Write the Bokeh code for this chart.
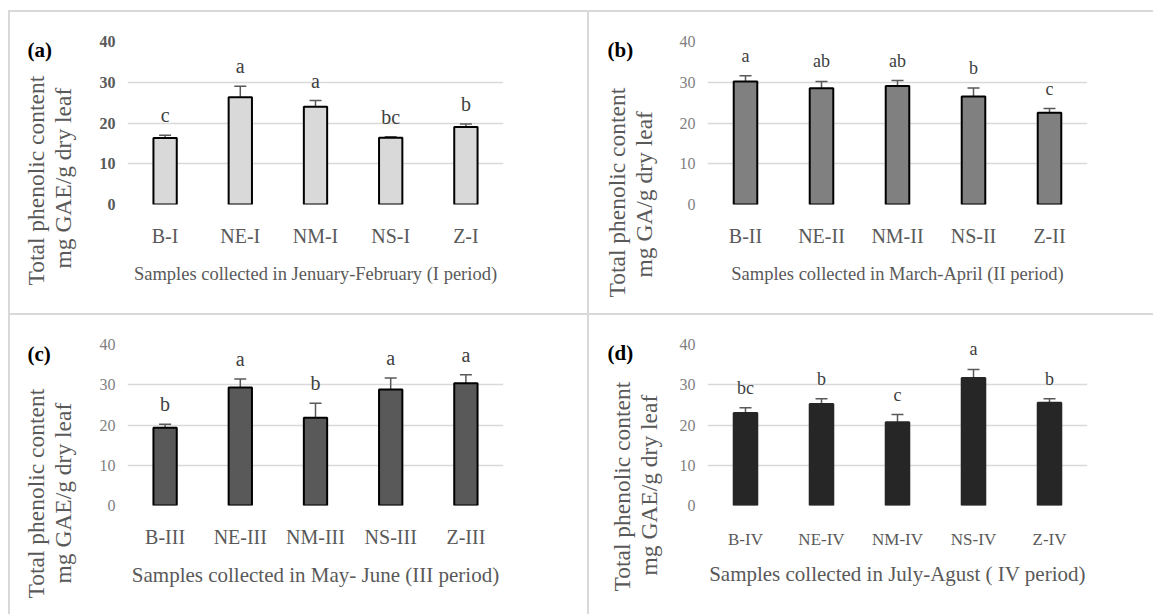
from bokeh.plotting import figure
from bokeh.models import (FactorRange, Range1d, ColumnDataSource, Whisker, TeeHead,
                          Title, Div, FixedTicker)
from bokeh.layouts import row, column
from bokeh.core.properties import value
from bokeh.embed import file_html
from bokeh.resources import INLINE

# ---------------- data ----------------
cats_a = ["B-I", "NE-I", "NM-I", "NS-I", "Z-I"]
vals_a = [16.3, 26.3, 24.0, 16.4, 19.0]
err_a = [0.7, 2.7, 1.5, 0.2, 0.75]
let_a = ["c", "a", "a", "bc", "b"]

cats_b = ["B-II", "NE-II", "NM-II", "NS-II", "Z-II"]
vals_b = [30.2, 28.5, 29.1, 26.5, 22.5]
err_b = [1.4, 1.7, 1.3, 2.1, 1.05]
let_b = ["a", "ab", "ab", "b", "c"]

cats_c = ["B-III", "NE-III", "NM-III", "NS-III", "Z-III"]
vals_c = [19.3, 29.3, 21.8, 28.8, 30.4]
err_c = [0.9, 2.1, 3.6, 2.9, 2.1]
let_c = ["b", "a", "b", "a", "a"]

cats_d = ["B-IV", "NE-IV", "NM-IV", "NS-IV", "Z-IV"]
vals_d = [23.0, 25.2, 20.7, 31.7, 25.5]
err_d = [1.3, 1.3, 1.9, 2.1, 1.0]
let_d = ["bc", "b", "c", "a", "b"]

y_ticks = [0, 10, 20, 30, 40]

FONT = "Liberation Serif"
BORDER = "#d9d9d9"
TXT = "#595959"


def make_panel(cats, vals, errs, lets, tag, xtitle, ytitle2, W, H,
               ml, mr, mt, frame_h, fill, line, tick_bold, tick_color,
               cat_size, xt_size, let_size, cat_standoff, xt_standoff,
               off1, off2, spacer, tag_off, tag_standoff):
    p = figure(width=W, height=H, x_range=FactorRange(factors=cats, range_padding=0),
               y_range=Range1d(0, 40), output_backend="svg", toolbar_location=None,
               min_border_left=ml, min_border_right=mr, min_border_top=mt,
               min_border_bottom=H - mt - frame_h)
    p.outline_line_color = None
    p.background_fill_color = "white"
    p.border_fill_color = "white"
    p.xgrid.grid_line_color = None
    p.ygrid.grid_line_color = BORDER
    p.ygrid.grid_line_width = 1.5
    p.yaxis.ticker = FixedTicker(ticks=y_ticks)

    p.yaxis.axis_line_color = None
    p.yaxis.major_tick_line_color = None
    p.yaxis.minor_tick_line_color = None
    p.yaxis.major_tick_out = 0
    p.yaxis.major_label_standoff = 12
    p.yaxis.major_label_text_font = FONT
    p.yaxis.major_label_text_font_size = "16px"
    p.yaxis.major_label_text_font_style = "bold" if tick_bold else "normal"
    p.yaxis.major_label_text_color = tick_color

    p.xaxis.axis_line_color = None
    p.xaxis.major_tick_line_color = None
    p.xaxis.major_tick_out = 0
    p.xaxis.major_label_standoff = cat_standoff
    p.xaxis.major_label_text_font = FONT
    p.xaxis.major_label_text_font_size = f"{cat_size}px"
    p.xaxis.major_label_text_color = TXT
    p.xaxis.axis_label = xtitle
    p.xaxis.axis_label_text_font = FONT
    p.xaxis.axis_label_text_font_size = f"{xt_size}px"
    p.xaxis.axis_label_text_font_style = "normal"
    p.xaxis.axis_label_text_color = TXT
    p.xaxis.axis_label_standoff = xt_standoff

    upper = [v + e for v, e in zip(vals, errs)]
    lower = [v - e for v, e in zip(vals, errs)]
    src = ColumnDataSource(dict(x=cats, top=vals, upper=upper, lower=lower, lab=lets))

    p.vbar(x="x", top="top", width=0.31, source=src, fill_color=fill,
           line_color=line, line_width=2)
    wh = Whisker(source=src, base="x", upper="upper", lower="lower",
                 line_color="#595959", line_width=1.5,
                 upper_head=TeeHead(size=12, line_color="#595959", line_width=1.5),
                 lower_head=TeeHead(size=12, line_color="#595959", line_width=1.5))
    p.add_layout(wh)
    p.text(x="x", y="upper", text="lab", source=src, y_offset=-20,
           text_align="center", text_baseline="middle",
           text_font=value(FONT), text_font_size=f"{let_size}px", text_color="#404040")

    # spacer between tick labels and the y title
    p.add_layout(Title(text=" ", text_font_size="1px", standoff=spacer), "left")
    # y title, two lines (inner line added first)
    p.add_layout(Title(text=ytitle2, align="left", offset=off2, vertical_align="middle",
                       standoff=0, text_font=FONT, text_font_size="23.5px",
                       text_font_style="normal", text_color=TXT), "left")
    p.add_layout(Title(text="Total phenolic content", align="left", offset=off1,
                       vertical_align="middle", standoff=-3, text_font=FONT,
                       text_font_size="23.5px", text_font_style="normal",
                       text_color=TXT), "left")
    # panel tag
    p.add_layout(Title(text=f"({tag})", align="left", offset=tag_off,
                       vertical_align="bottom", standoff=tag_standoff, text_font=FONT,
                       text_font_size="21px", text_font_style="bold",
                       text_color="black"), "above")
    return p


pa = make_panel(cats_a, vals_a, err_a, let_a, "a",
                "Samples collected in Jenuary-February (I period)", "mg GAE/g dry leaf",
                577, 301, 117, 84, 29, 163, "#d9d9d9", "black", True, "#595959",
                20, 18.5, 20, 20, 14, -81, -64, 17, -100, -40)
pb = make_panel(cats_b, vals_b, err_b, let_b, "b",
                "Samples collected in March-April (II period)", "mg GA/g dry leaf",
                564, 301, 118, 66, 29, 163, "#808080", "black", False, "#7f7f7f",
                20, 18.5, 18, 20, 14, -93, -73, 16, -100, -40)
pc = make_panel(cats_c, vals_c, err_c, let_c, "c",
                "Samples collected in May- June (III period)", "mg GAE/g dry leaf",
                577, 299, 117, 84, 29, 161, "#595959", "black", False, "#7f7f7f",
                20, 21, 20, 20, 12, -93, -78, 17, -100, -42)
pd = make_panel(cats_d, vals_d, err_d, let_d, "d",
                "Samples collected in July-Agust ( IV period)", "mg GAE/g dry leaf",
                564, 299, 118, 66, 29, 173, "#262626", "#262626", False, "#7f7f7f",
                17, 21, 18, 24, 10, -86, -70, 11, -100, -40)


def bar(w, h):
    return Div(text="", width=w, height=h, margin=0,
               styles={"background-color": BORDER})


layout = column(
    bar(1145, 2),
    row(bar(2, 301), pa, bar(2, 301), pb, spacing=0, margin=0),
    bar(1145, 2),
    row(bar(2, 299), pc, bar(2, 299), pd, spacing=0, margin=0),
    spacing=0, margin=(10, 0, 0, 8))

open("out.html", "w").write(file_html(layout, INLINE))
